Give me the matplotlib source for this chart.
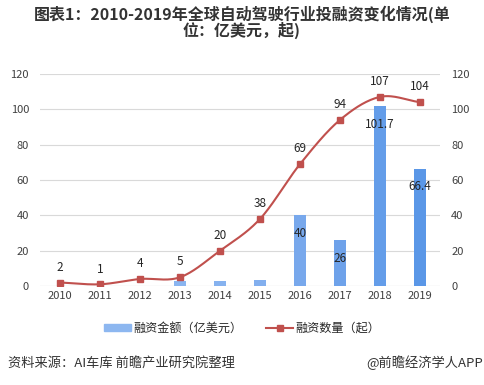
import matplotlib
matplotlib.use("Agg")
import matplotlib.pyplot as plt
import numpy as np
from matplotlib.lines import Line2D
from matplotlib.patches import Patch

plt.rcParams['font.family'] = ['Noto Sans CJK SC', 'DejaVu Sans']

years = ['2010', '2011', '2012', '2013', '2014', '2015', '2016', '2017', '2018', '2019']
amount = [0, 0, 0, 2.8, 3.0, 3.6, 40, 26, 101.7, 66.4]
amount_labels = ['', '', '', '', '', '', '40', '26', '101.7', '66.4']
count = [2, 1, 4, 5, 20, 38, 69, 94, 107, 104]
bar_colors = ['#8db7f0', '#8db7f0', '#8db7f0', '#8ab5f0', '#86b2ef', '#82afee', '#78a8ec', '#6ea2ea', '#649de9', '#5a97e7']

fig = plt.figure(figsize=(4.84, 3.85), dpi=100)
ax = fig.add_axes([0.083, 0.257, 0.826, 0.551])
ax2 = ax.twinx()

x = np.arange(len(years))
ax.bar(x, amount, width=0.32, color=bar_colors, zorder=2)
for xi, v, lab in zip(x, amount, amount_labels):
    if lab:
        ax.annotate(lab, (xi, v), xytext=(0, -13), textcoords='offset points',
                    ha='center', va='center', fontsize=8.5, color='#262626', zorder=5)

# smooth curve (Catmull-Rom through the data points)
def catmull(xs, ys, n=30):
    P = np.column_stack([xs, ys]).astype(float)
    P = np.vstack([P[0] - (P[1] - P[0]), P, P[-1] + (P[-1] - P[-2])])
    out = []
    for i in range(1, len(P) - 2):
        p0, p1, p2, p3 = P[i - 1], P[i], P[i + 1], P[i + 2]
        t = np.linspace(0, 1, n)[:, None]
        c1 = p1 + (p2 - p0) / 6
        c2 = p2 - (p3 - p1) / 6
        seg = (1 - t) ** 3 * p1 + 3 * (1 - t) ** 2 * t * c1 + 3 * (1 - t) * t ** 2 * c2 + t ** 3 * p2
        out.append(seg)
    out = np.vstack(out)
    return out[:, 0], out[:, 1]

sx, sy = catmull(x, count)
ax2.plot(sx, sy, color='#c0504d', lw=1.5, zorder=3)
ax2.plot(x, count, ls='none', marker='s', ms=5, color='#c0504d', zorder=4)
for xi, v in zip(x, count):
    ax2.annotate(str(v), (xi, v), xytext=(0, 11), textcoords='offset points',
                 ha='center', va='center', fontsize=8.5, color='#262626')

for a in (ax, ax2):
    a.set_ylim(0, 120)
    a.set_yticks(range(0, 121, 20))
    for s in a.spines.values():
        s.set_visible(False)
    a.tick_params(length=0, labelsize=8, colors='#404040')
ax.set_xlim(-0.5, 9.5)
ax.set_xticks(x)
ax.set_xticklabels(years)
ax.tick_params(axis='y', pad=8)
ax2.tick_params(axis='y', pad=8)
ax.grid(axis='y', color='#d9d9d9', lw=0.8, zorder=0)
ax.set_axisbelow(True)
ax.axhline(0, color='#d9d9d9', lw=0.8, zorder=1)

fig.text(0.5, 0.942, '图表1：2010-2019年全球自动驾驶行业投融资变化情况(单\n位：亿美元，起)',
         ha='center', va='center', fontsize=11.5, fontweight='bold', color='#333333', linespacing=0.95)

handles = [Patch(color='#8db7f0', label='融资金额（亿美元）'),
           Line2D([0], [0], color='#c0504d', lw=1.5, marker='s', ms=5, label='融资数量（起）')]
fig.legend(handles=handles, loc='center', bbox_to_anchor=(0.5, 0.148), ncol=2, frameon=False,
           fontsize=8.7, handlelength=2.2, handleheight=0.5, handletextpad=0.2,
           columnspacing=2.0, labelcolor='#262626')

fig.text(0.016, 0.057, '资料来源：AI车库 前瞻产业研究院整理', ha='left', va='center', fontsize=9.5, color='#333333')
fig.text(0.998, 0.057, '@前瞻经济学人APP', ha='right', va='center', fontsize=9.5, color='#333333')

fig.savefig('out.png', dpi=100)
